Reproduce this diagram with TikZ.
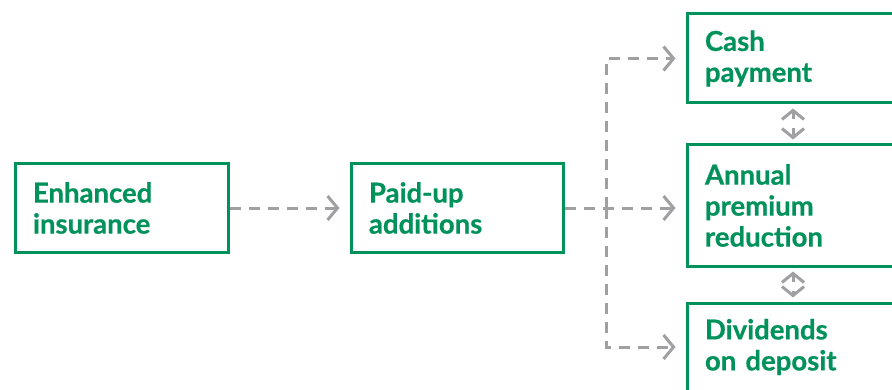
\documentclass[tikz,border=0pt]{standalone}
\usepackage{fontspec}
\setmainfont{Lato}[BoldFeatures={FakeBold=0.6}]
\usetikzlibrary{arrows.meta}
\definecolor{brandgreen}{RGB}{0,146,90}
\definecolor{flowgray}{RGB}{160,160,162}
\tikzset{
  barb/.tip={Straight Barb[length=10pt,width=24pt,line width=3pt]},
  sbarb/.tip={Straight Barb[length=9pt,width=22pt,line width=3pt]},
  box/.style={draw=brandgreen, line width=3pt, rectangle, inner xsep=18pt, inner ysep=0pt,
    align=left, text=brandgreen, font=\fontsize{27.5}{31}\selectfont\bfseries, anchor=center},
  flow/.style={draw=flowgray, line width=3pt, dash pattern=on 11pt off 8pt, -barb},
  swap/.style={draw=flowgray, line width=3pt, dash pattern=on 7pt off 9pt, sbarb-sbarb}
}
\begin{document}
\begin{tikzpicture}[x=1pt,y=1pt]
  \useasboundingbox (0,0) rectangle (892,389);
  \clip (0,0) rectangle (892,389);
  % left-hand boxes
  \node[box, minimum width=213pt, minimum height=88pt, text width=177pt] (ins) at (121.5,181) {Enhanced\\insurance};
  \node[box, minimum width=212pt, minimum height=88pt, text width=176pt] (pua) at (457,181) {Paid-up\\additions};
  % right-hand column of options
  \node[box, minimum width=230pt, minimum height=89pt, text width=194pt] (cash) at (802,330.5) {Cash\\payment};
  \node[box, minimum width=230pt, minimum height=121pt, text width=194pt] (annual) at (802,183.5) {Annual\\premium\\reduction};
  \node[box, minimum width=230pt, minimum height=88pt, text width=194pt] (div) at (802,42) {Dividends\\on deposit};
  % branch point and column of swap arrows
  \coordinate (br) at (606,181);
  \coordinate (sx) at (793,0);
  % connectors
  \draw[flow, shorten >=10pt] (ins.east) -- (pua.west);
  \draw[flow, shorten >=10pt] (pua.east) -- (annual.west |- pua.east);
  \draw[flow, shorten >=10pt] (br) |- (cash.west);
  \draw[flow, shorten >=10pt] (br) |- (div.west);
  \draw[swap, shorten <=4pt, shorten >=4pt] (cash.south -| sx) -- (annual.north -| sx);
  \draw[swap, shorten <=4pt, shorten >=4pt] (annual.south -| sx) -- (div.north -| sx);
\end{tikzpicture}
\end{document}
